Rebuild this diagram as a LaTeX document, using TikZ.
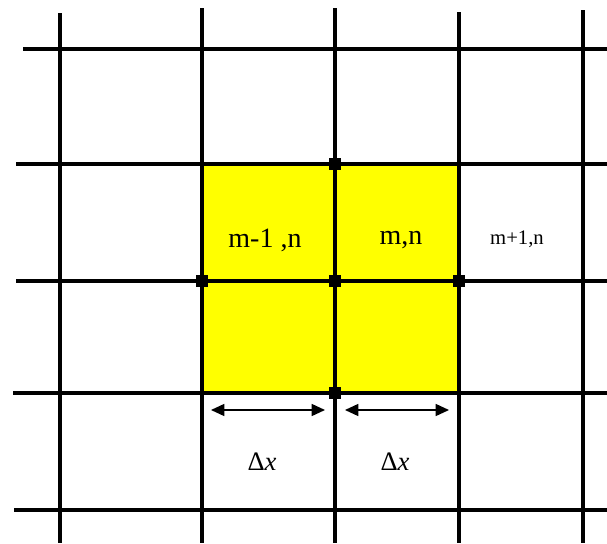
\documentclass[tikz,border=0pt]{standalone}
\usepackage{fontspec}
\setmainfont{Liberation Serif}
\usetikzlibrary{arrows.meta}
\definecolor{Cell}{HTML}{FFFF00}
\definecolor{Ink}{HTML}{000000}

\begin{document}
\begin{tikzpicture}[x=0.75pt,y=-0.75pt,
    gridline/.style={Ink,line width=3.4pt},
    knot/.style={Ink,fill=Ink,minimum size=9pt,inner sep=0pt,draw=none},
    celllabel/.style={font=\fontsize{21}{24}\selectfont},
    spanarrow/.style={Ink,line width=1.1pt,{Triangle[length=10pt,width=9pt]}-{Triangle[length=10pt,width=9pt]}}]
  \useasboundingbox (0,0) rectangle (607,543);
  \fill[Cell] (202,164) rectangle (459,393);
  % grid
  \foreach \x/\top in {60/13,202/8,335/8,459/12,583/10}
    \draw[gridline] (\x,\top) -- (\x,543);
  \foreach \y/\left in {49/23,164/16,281/16,393/13,510/14}
    \draw[gridline] (\left,\y) -- (607,\y);
  % nodes on the lines
  \node[knot] (ktop) at (335,164) {};
  \node[knot] (kleft) at (202,281) {};
  \node[knot] (kmid) at (335,281) {};
  \node[knot] (kright) at (459,281) {};
  \node[knot] (kbot) at (335,393) {};
  % cell labels
  \node[celllabel] (lblA) at (265,240) {m-1 ,n};
  \node[celllabel] (lblB) at (401,240) {m,n};
  \node[font=\fontsize{15.5}{18}\selectfont] (lblC) at (517,239) {m+1,n};
  % spacing arrows
  \coordinate (aL) at (211,410);
  \coordinate (aM) at (325,410);
  \coordinate (bM) at (345,410);
  \coordinate (bR) at (449,410);
  \draw[spanarrow] (aL) -- (aM);
  \draw[spanarrow] (bM) -- (bR);
  \node[font=\fontsize{20}{24}\selectfont] (dxA) at (262,462) {Δ\textit{x}};
  \node[font=\fontsize{20}{24}\selectfont] (dxB) at (395,462) {Δ\textit{x}};
\end{tikzpicture}
\end{document}
